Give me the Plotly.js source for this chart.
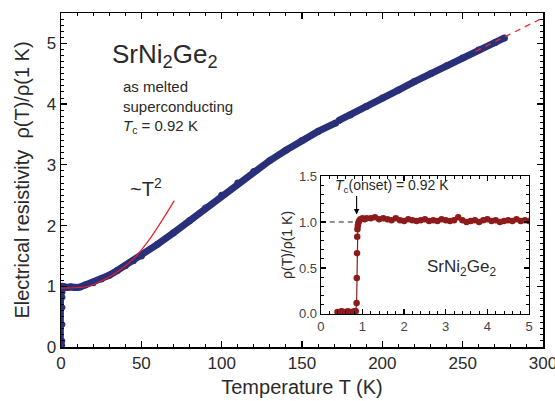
<!DOCTYPE html>
<html>
<head>
<meta charset="utf-8">
<script src="https://cdn.plot.ly/plotly-3.0.1.min.js"></script>
<style>html,body{margin:0;padding:0;background:#fff;}#chart{width:555px;height:401px;}</style>
</head>
<body>
<div id="chart"></div>
<script>
// Main curve: resistivity ratio vs temperature (K)
const mainT = [1, 2, 4, 6, 8, 10, 12, 15, 20, 25, 30, 35, 40, 45, 50, 60, 70, 80, 90, 100, 110, 120, 130, 140, 150, 160, 171, null, 173, 180, 190, 200, 210, 220, 230, 240, 250, 260, 270, 276];
const mainRho = [1.00, 0.99, 0.98, 0.99, 0.98, 0.98, 0.99, 1.02, 1.06, 1.12, 1.18, 1.26, 1.34, 1.42, 1.50, 1.69, 1.88, 2.08, 2.29, 2.50, 2.70, 2.89, 3.07, 3.24, 3.40, 3.55, 3.69, null, 3.73, 3.82, 3.96, 4.10, 4.23, 4.37, 4.50, 4.63, 4.76, 4.89, 5.01, 5.09];
// Superconducting drop seen at the origin of the main panel
const dropT = [0.5, 0.7, 0.8, 0.85, 0.87, 0.88, 0.9, 0.92];
const dropRho = [0.01, 0.03, 0.10, 0.37, 0.65, 0.82, 0.90, 0.96];
// ~T^2 fit curve
const fitT = [0, 10, 17, 27.5, 37.8, 46.2, 54.5, 62.8, 70.5];
const fitRho = [0.97, 0.98, 1.00, 1.12, 1.29, 1.48, 1.75, 2.08, 2.41];
// Linear extrapolation (dashed)
const extT = [258, 300];
const extRho = [4.87, 5.42];

// Inset: low temperature transition
const insT = [0.40, 0.45, 0.50, 0.55, 0.60, 0.65, 0.70, 0.75, 0.80, 0.84, 0.86, 0.865, 0.87, 0.875, 0.88, 0.89, 0.90, 0.92, 0.95, 1.00, 1.05, 1.10, 1.20, 1.30, 1.40, 1.50, 1.60, 1.70, 1.80, 1.90, 2.00, 2.10, 2.20, 2.30, 2.40, 2.50, 2.60, 2.70, 2.80, 2.90, 3.00, 3.10, 3.20, 3.30, 3.40, 3.50, 3.60, 3.70, 3.80, 3.90, 4.00, 4.10, 4.20, 4.30, 4.40, 4.50, 4.60, 4.70, 4.80, 4.90, 5.00];
const insRho = [0.02, 0.02, 0.03, 0.02, 0.02, 0.03, 0.02, 0.02, 0.03, 0.03, 0.12, 0.39, 0.66, 0.84, 0.92, 0.96, 0.99, 1.01, 1.03, 1.04, 1.03, 1.04, 1.04, 1.05, 1.03, 1.04, 1.03, 1.02, 1.04, 1.02, 1.01, 1.03, 1.02, 1.01, 1.02, 1.03, 1.01, 1.02, 1.01, 1.03, 1.02, 1.01, 1.02, 1.05, 1.02, 1.00, 1.01, 1.02, 1.00, 1.02, 1.03, 1.01, 1.02, 1.00, 1.01, 1.02, 1.01, 1.03, 1.01, 1.02, 1.01];
const refT = [0, 0.95];
const refRho = [1.0, 1.0];

const navy = '#29307a';
const darkRed = '#8e1b1b';
const txt = '#2a2a2a';
const FONT = 'Liberation Sans, Arial, sans-serif';

const traces = [
  {x: mainT, y: mainRho, xaxis: 'x', yaxis: 'y', mode: 'lines+markers', line: {color: navy, width: 7}, marker: {color: navy, size: 7}, connectgaps: false},
  {x: dropT, y: dropRho, xaxis: 'x', yaxis: 'y', mode: 'lines+markers', line: {color: navy, width: 3}, marker: {color: navy, size: 6}},
  {x: fitT, y: fitRho, xaxis: 'x', yaxis: 'y', mode: 'lines', line: {color: '#ee1c24', width: 1.2, shape: 'spline'}},
  {x: extT, y: extRho, xaxis: 'x', yaxis: 'y', mode: 'lines', line: {color: '#ee2a2a', width: 1.3, dash: '6px,5px'}},
  {x: refT, y: refRho, xaxis: 'x2', yaxis: 'y2', mode: 'lines', line: {color: '#222', width: 1, dash: '5px,4px'}},
  {x: insT, y: insRho, xaxis: 'x2', yaxis: 'y2', mode: 'lines+markers', line: {color: darkRed, width: 1.2}, marker: {color: darkRed, size: 6.5}}
];

const axBase = {
  showgrid: false, zeroline: false, showline: true, linecolor: '#000', linewidth: 1.5,
  ticks: 'inside', tickcolor: '#000', tickwidth: 1.3, mirror: 'allticks', ticklabeloverflow: 'allow'
};

const layout = {
  width: 555, height: 401,
  margin: {l: 61, r: 12, t: 13, b: 54},
  paper_bgcolor: '#fff', plot_bgcolor: '#fff',
  showlegend: false,
  font: {family: FONT, color: txt},
  xaxis: Object.assign({}, axBase, {
    domain: [0, 1], anchor: 'y', range: [0, 300], dtick: 50, tick0: 0, ticklen: 6,
    minor: {dtick: 10, ticklen: 3, ticks: 'inside', tickcolor: '#000', tickwidth: 1},
    tickfont: {size: 17, color: txt},
    title: {text: 'Temperature T (K)', font: {size: 20, color: txt}, standoff: 8}
  }),
  yaxis: Object.assign({}, axBase, {
    domain: [0, 1], anchor: 'x', range: [0, 5.5], dtick: 1, tick0: 0, ticklen: 6,
    minor: {dtick: 0.1, ticklen: 3, ticks: 'inside', tickcolor: '#000', tickwidth: 1},
    tickfont: {size: 17, color: txt},
    title: {text: 'Electrical resistivity\u00a0\u00a0\u03c1(T)/\u03c1(1 K)', font: {size: 20, color: txt}, standoff: 11}
  }),
  xaxis2: Object.assign({}, axBase, {
    domain: [0.539, 0.971], anchor: 'y2', range: [0, 5], dtick: 1, tick0: 0, ticklen: 5, linewidth: 1.2,
    minor: {dtick: 0.2, ticklen: 3, ticks: 'inside', tickcolor: '#000', tickwidth: 1},
    tickfont: {size: 13, color: '#444'}, ticklabelstandoff: 0
  }),
  yaxis2: Object.assign({}, axBase, {
    domain: [0.099, 0.512], anchor: 'x2', range: [0, 1.5], dtick: 0.5, tick0: 0, tickformat: '.1f', ticklen: 5, linewidth: 1.2,
    minor: {dtick: 0.1, ticklen: 3, ticks: 'inside', tickcolor: '#000', tickwidth: 1},
    tickfont: {size: 13, color: '#444'},
    title: {text: '\u03c1(T)/\u03c1(1 K)', font: {size: 14, color: txt}, standoff: 3}
  }),
  annotations: [
    {xref: 'x', yref: 'y', x: 64.5, y: 4.8, text: 'SrNi<sub>2</sub>Ge<sub>2</sub>', showarrow: false, font: {size: 26, color: txt}},
    {xref: 'x', yref: 'y', x: 37.5, y: 3.96, xanchor: 'left', align: 'left', text: 'as melted<br>superconducting<br><i>T</i><sub>c</sub> = 0.92 K', showarrow: false, font: {size: 15, color: txt}},
    {xref: 'x', yref: 'y', x: 53, y: 2.62, text: '~T<sup>2</sup>', showarrow: false, font: {size: 20, color: txt}},
    {xref: 'x2', yref: 'y2', x: 1.71, y: 1.39, text: '<i>T</i><sub>c</sub>(onset) = 0.92 K', showarrow: false, font: {size: 14, color: txt}},
    {xref: 'x2', yref: 'y2', x: 0.86, y: 1.08, ax: 0.86, ay: 1.3, axref: 'x2', ayref: 'y2', text: '', showarrow: true, arrowhead: 2, arrowsize: 1, arrowwidth: 1.1, arrowcolor: '#000'},
    {xref: 'x2', yref: 'y2', x: 3.37, y: 0.5, text: 'SrNi<sub>2</sub>Ge<sub>2</sub>', showarrow: false, font: {size: 17, color: txt}},
    {xref: 'x2', yref: 'y2', x: 2.86, y: -0.13, text: 'T (K)', showarrow: false, font: {size: 14, color: txt}}
  ]
};

Plotly.newPlot('chart', traces, layout, {staticPlot: true, displayModeBar: false});
</script>
</body>
</html>
